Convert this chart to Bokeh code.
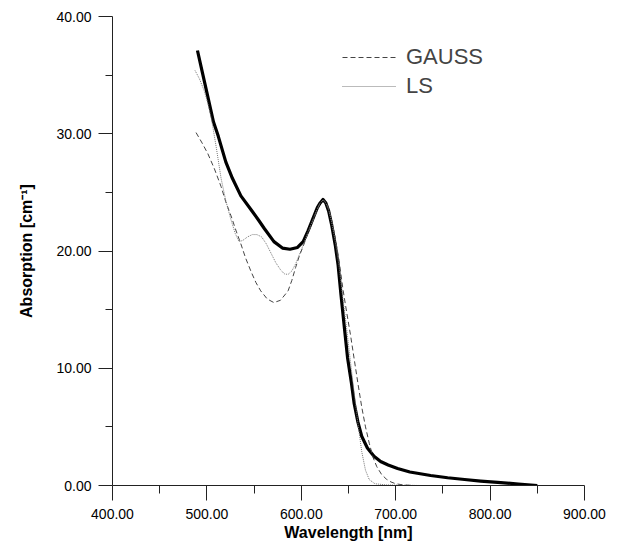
from bokeh.plotting import figure
from bokeh.models import Range1d, Legend, LegendItem, NumeralTickFormatter, FixedTicker
from bokeh.embed import file_html
from bokeh.resources import INLINE

# Main measured absorption spectrum (bold)
main_wl = [490, 495, 500, 507, 512, 520, 527, 536, 547, 555, 561, 571, 580, 588, 596, 602, 607, 612,
           617, 620, 623, 626, 629, 632, 636, 639, 642, 646, 649, 653, 656, 660, 664, 670, 677, 684,
           692, 702, 715, 737, 755, 773, 790, 808, 830, 850]
main_abs = [37.1, 35.3, 33.5, 31.0, 29.8, 27.6, 26.2, 24.7, 23.5, 22.6, 21.9, 20.8, 20.25, 20.15, 20.3, 20.8, 21.7, 22.7,
            23.7, 24.1, 24.4, 24.1, 23.4, 22.3, 20.5, 18.8, 16.3, 13.2, 10.9, 8.8, 7.0, 5.4, 4.2, 3.2, 2.5, 2.05,
            1.75, 1.45, 1.15, 0.85, 0.66, 0.51, 0.38, 0.27, 0.13, 0.0]

# GAUSS fit (dashed)
gauss_wl = [488.5, 495, 501, 508, 515, 520, 526, 531, 536, 541, 547, 552, 557, 564, 571, 578, 586, 590,
            594, 598, 602, 607, 612, 617, 620, 623, 626, 629, 632, 636, 640, 644, 648, 652, 656, 660,
            664, 668, 672, 676, 680, 685, 690, 695, 700, 708, 720]
gauss_abs = [30.1, 29.2, 28.3, 27.0, 25.5, 24.2, 22.9, 21.7, 20.6, 19.4, 18.2, 17.3, 16.6, 15.9, 15.6, 15.8, 16.6, 17.5,
             18.6, 19.6, 20.4, 21.5, 22.5, 23.6, 24.1, 24.35, 24.2, 23.6, 22.7, 21.1, 19.2, 16.8, 14.8, 12.9, 10.8, 8.7,
             6.7, 5.0, 3.6, 2.4, 1.6, 0.95, 0.55, 0.3, 0.15, 0.05, 0.0]

# LS fit (dotted)
ls_wl = [487.4, 492, 497, 501, 505, 510, 515, 520, 525, 530, 534, 538, 543, 548, 553, 558, 563, 568,
         573, 578, 582, 586, 590, 594, 598, 602, 607, 612, 617, 620, 623, 626, 629, 632, 636, 640,
         644, 648, 652, 656, 660, 664, 668, 672, 678, 690, 725]
ls_abs = [35.4, 34.7, 33.7, 32.6, 31.2, 28.8, 26.2, 24.3, 22.8, 21.5, 20.8, 20.9, 21.2, 21.4, 21.4, 21.2, 20.6, 19.8,
          19.0, 18.4, 18.05, 18.0, 18.3, 18.9, 19.7, 20.5, 21.6, 22.6, 23.6, 24.1, 24.35, 24.1, 23.5, 22.5, 20.8, 18.7,
          16.0, 13.4, 10.6, 7.9, 5.3, 2.9, 1.3, 0.5, 0.15, 0.05, 0.0]

x_ticks = [400, 500, 600, 700, 800, 900]
y_ticks = [0, 10, 20, 30, 40]
legend_labels = ["GAUSS", "LS"]

FONT = "Liberation Sans"

p = figure(width=625, height=546, output_backend="svg", toolbar_location=None,
           x_range=Range1d(400, 900), y_range=Range1d(0, 40),
           min_border_left=112, min_border_right=41, min_border_top=16, min_border_bottom=61)
p.outline_line_color = None
p.xgrid.visible = False
p.ygrid.visible = False
p.background_fill_color = "white"
p.border_fill_color = "white"

r_main = p.line(main_wl, main_abs, line_color="black", line_width=3.2, line_join="round")
r_gauss = p.line(gauss_wl, gauss_abs, line_color="#444444", line_width=1, line_dash="5 3")
r_ls = p.line(ls_wl, ls_abs, line_color="#777777", line_width=1, line_dash="1 1")

for ax in (p.xaxis[0], p.yaxis[0]):
    ax.axis_line_color = "#222222"
    ax.major_tick_line_color = "#222222"
    ax.minor_tick_line_color = "#222222"
    ax.major_tick_in = 0
    ax.minor_tick_in = 0
    ax.major_label_text_font = FONT
    ax.major_label_text_font_size = "14px"
    ax.major_label_text_color = "black"
    ax.axis_label_text_font = FONT
    ax.axis_label_text_font_style = "bold"
    ax.axis_label_text_font_size = "16px"
    ax.axis_label_text_color = "black"
    ax.formatter = NumeralTickFormatter(format="0.00")

p.xaxis[0].ticker = FixedTicker(ticks=x_ticks, minor_ticks=[450, 550, 650, 750, 850])
p.yaxis[0].ticker = FixedTicker(ticks=y_ticks, minor_ticks=[5, 15, 25, 35])
p.xaxis[0].major_tick_out = 15
p.xaxis[0].minor_tick_out = 8
p.yaxis[0].major_tick_out = 14
p.yaxis[0].minor_tick_out = 7
p.xaxis[0].major_label_standoff = 8
p.yaxis[0].major_label_standoff = 7
p.xaxis[0].axis_label = "Wavelength [nm]"
p.yaxis[0].axis_label = "Absorption [cm\u207b\u00b9]"
p.xaxis[0].axis_label_standoff = 2
p.yaxis[0].axis_label_standoff = 18

legend = Legend(items=[LegendItem(label=legend_labels[0], renderers=[r_gauss]),
                       LegendItem(label=legend_labels[1], renderers=[r_ls])],
                location=(230, 386), orientation="vertical",
                border_line_color=None, background_fill_alpha=0,
                label_text_font=FONT, label_text_font_size="22px",
                glyph_width=54, label_standoff=10, spacing=3, padding=0, margin=0)
p.add_layout(legend)

open("out.html", "w").write(file_html(p, INLINE))
